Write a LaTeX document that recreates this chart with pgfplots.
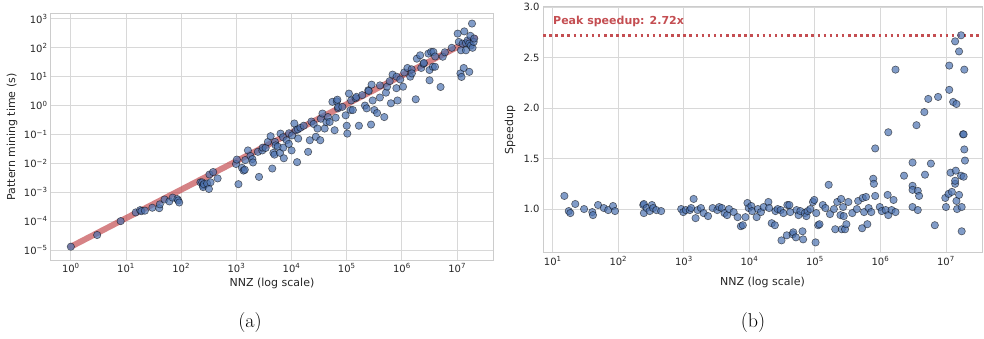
\documentclass[border=0pt]{standalone}
\usepackage{pgfplots}
\pgfplotsset{compat=1.18}
\usepackage{fontspec}
\newfontfamily\dejavu{DejaVu Sans}
\definecolor{sbblue}{HTML}{4C72B0}
\definecolor{sbred}{HTML}{C44E52}
\definecolor{txt}{HTML}{262626}
\definecolor{gridc}{HTML}{D8D8D8}
\definecolor{spine}{HTML}{CCCCCC}
\begin{document}
\begin{tikzpicture}
\path[use as bounding box] (0,0) rectangle (984pt,339pt);
% ---------------- (a)
\begin{axis}[scale only axis, xmode=log, ymode=log,
  grid=major, major grid style={draw=gridc, line width=0.9pt},
  axis line style={draw=spine, line width=1pt},
  major tick length=0pt, minor tick length=0pt,
  ticklabel style={font=\dejavu\fontsize{10}{12}\selectfont, text=txt},
  xlabel style={font=\dejavu\fontsize{11}{13}\selectfont, text=txt, at={(axis description cs:0.5,-0.0935)}, anchor=center},
  ylabel style={font=\dejavu\fontsize{11}{13}\selectfont, text=txt, at={(axis description cs:-0.088,0.5)}, anchor=center},
  at={(51pt,79pt)}, anchor=south west, width=442pt, height=246pt,
  xmin=0.437, xmax=4.47e7, ymin=4.5e-6, ymax=1.48e3,
  xtick={1,10,100,1000,10000,100000,1000000,10000000},
  xticklabels={10\textsuperscript{0},10\textsuperscript{1},10\textsuperscript{2},10\textsuperscript{3},10\textsuperscript{4},10\textsuperscript{5},10\textsuperscript{6},10\textsuperscript{7}},
  ytick={1e-5,1e-4,1e-3,1e-2,1e-1,1,10,100,1000},
  yticklabels={10\textsuperscript{−5},10\textsuperscript{−4},10\textsuperscript{−3},10\textsuperscript{−2},10\textsuperscript{−1},10\textsuperscript{0},10\textsuperscript{1},10\textsuperscript{2},10\textsuperscript{3}},
  xlabel={NNZ (log scale)}, ylabel={Pattern mining time (s)},
]
\addplot[only marks, mark=*, mark size=3.7pt,
    mark options={fill=sbblue, fill opacity=0.7, draw=black, draw opacity=0.55, line width=0.6pt}] coordinates {
(1,1.3e-5) (3,3.3e-5) (8,1.0e-4) (15,2.0e-4) (18,2.4e-4) (19,2.2e-4) (22,2.3e-4)
(30,2.9e-4) (40,2.8e-4) (41,3.8e-4) (50,5.6e-4) (61,4.8e-4) (70,6.5e-4) (85,5.8e-4)
(88,5.2e-4) (92,4.4e-4) (223,2.2e-3) (240,2.2e-3) (247,1.7e-3) (250,1.5e-3) (257,1.9e-3)
(295,2.0e-3) (318,1.3e-3) (325,4.1e-3) (340,2.2e-3) (380,5.0e-3) (457,3.0e-3)
(985,9.5e-3) (1020,1.35e-2) (1090,1.9e-3) (1260,7.0e-3) (1350,5.6e-3) (1420,6.0e-3)
(1450,1.3e-2) (1620,2.8e-2) (1800,1.8e-2) (1950,1.4e-2) (2000,1.07e-2) (2570,3.4e-3) (2450,2.5e-2)
(2950,2.8e-2) (3000,3.5e-2) (3390,3.4e-2) (3720,5.5e-2) (4170,8.7e-2) (4470,6.6e-3) (4680,2.3e-2)
(4900,2.0e-2) (5000,5.5e-2) (5130,4.2e-2) (5620,3.8e-2) (6310,0.107) (6170,2.3e-2) (7000,8e-2) (7240,1.5e-2)
(7080,3.5e-2) (8130,6.3e-2) (8910,4.7e-2) (9000,0.11) (10000,2.8e-2) (10230,9.3e-2) (11220,0.24)
(12020,0.14) (12590,1.1e-2) (13000,0.15) (13180,7.2e-2) (14450,0.17) (16600,0.2) (19950,2.5e-2)
(21380,6.3e-2) (22910,0.28) (25120,0.23) (27540,8.3e-2) (29510,0.16) (33110,6.3e-2)
(33880,0.35) (36310,0.53) (39810,0.16) (42660,0.27) (45710,0.4) (48980,0.27) (54950,1.35)
(60260,0.14) (63100,0.38) (66070,1.4) (69180,0.8) (67610,1.6) (70000,0.9) (83180,0.9) (95500,0.46)
(100000,0.2) (102300,0.107) (109600,2.6) (117500,0.7) (120000,1.5) (128800,0.7) (144500,1.8)
(150000,2.0) (166000,0.2) (190500,2.3) (213800,1.0) (229100,0.8) (245500,3.4) (250000,3.2) (275400,0.22)
(281800,5.3) (295100,1.5) (316200,0.7) (354800,0.55) (398100,1.9) (400000,5) (478600,0.4)
(512900,2.8) (537000,4.5) (600000,7) (631000,1.2) (676100,11.8) (794300,4.0) (800000,10) (831800,1.5)
(933300,8.0) (1047000,4.5) (1100000,14) (1259000,20) (1413000,10) (1500000,18) (1514000,13) (1778000,1.65)
(1862000,42) (2138000,55) (2239000,20) (2455000,28) (2500000,30) (3020000,63) (3162000,7.5)
(3162000,17) (3388000,72) (3630000,22) (3715000,72) (3981000,22) (4000000,50) (5012000,4.4)
(5495000,49) (6000000,70) (8000000,100) (10230000,310) (10720000,160) (11480000,13) (11750000,82)
(12020000,9.8) (12590000,140) (13180000,20) (13490000,370) (14450000,145) (14450000,82)
(15490000,180) (16600000,14.7) (16600000,140) (17380000,260) (17780000,120) (18620000,690)
(19050000,100) (19950000,160) (20420000,210)
};
\addplot[sbred, opacity=0.7, line width=6pt, line cap=round] coordinates {(1,1.3e-5) (2.1e7,2.2e2)};
\end{axis}
% ---------------- (b)
\begin{axis}[scale only axis, xmode=log,
  grid=major, major grid style={draw=gridc, line width=0.9pt},
  axis line style={draw=spine, line width=1pt},
  major tick length=0pt, minor tick length=0pt,
  ticklabel style={font=\dejavu\fontsize{10}{12}\selectfont, text=txt},
  xlabel style={font=\dejavu\fontsize{11}{13}\selectfont, text=txt, at={(axis description cs:0.5,-0.118)}, anchor=center},
  ylabel style={font=\dejavu\fontsize{11}{13}\selectfont, text=txt, at={(axis description cs:-0.075,0.5)}, anchor=center},
  at={(543pt,86pt)}, anchor=south west, width=439pt, height=246pt,
  xmin=7.08, xmax=3.55e7, ymin=0.565, ymax=3.0,
  xtick={10,100,1000,10000,100000,1000000,10000000},
  xticklabels={10\textsuperscript{1},10\textsuperscript{2},10\textsuperscript{3},10\textsuperscript{4},10\textsuperscript{5},10\textsuperscript{6},10\textsuperscript{7}},
  ytick={1.0,1.5,2.0,2.5,3.0},
  yticklabels={1.0,1.5,2.0,2.5,3.0},
  xlabel={NNZ (log scale)}, ylabel={Speedup},
]
\addplot[only marks, mark=*, mark size=3.7pt,
    mark options={fill=sbblue, fill opacity=0.7, draw=black, draw opacity=0.55, line width=0.6pt}] coordinates {
(15,1.13) (17.5,0.98) (18.5,0.96) (22,1.05) (30,1.0) (40,0.97) (41,0.94) (49,1.04)
(60,1.01) (70,0.99) (83,1.03) (89,0.98) (240,1.04) (245,1.05) (245,0.96) (270,1.01)
(300,0.98) (325,1.04) (340,1.01) (380,0.99) (450,0.98) (910,1.0) (980,0.97) (1070,0.99)
(1230,0.99) (1290,1.01) (1410,1.10) (1510,0.91) (1620,0.99) (1820,1.01) (2000,0.96)
(2340,0.93) (2750,1.01) (3240,0.99) (3470,1.02) (3800,1.01) (4170,0.96) (4570,0.94)
(4900,1.0) (5750,0.97) (6610,0.92) (7410,0.83) (7940,0.84) (8710,0.92) (9330,1.06)
(9770,1.01) (10700,1.03) (11000,0.98) (12900,0.92) (13500,1.0) (15000,0.97) (16500,1.02)
(19500,1.07) (20000,1.01) (21900,0.86) (24500,0.84) (25000,0.98) (27000,1.0) (30000,0.99)
(30900,0.69) (33000,0.96) (37200,0.74) (38000,1.04) (40700,1.04) (42000,0.97) (45700,0.75)
(46800,0.77) (51300,0.72) (52500,0.99) (56200,0.94) (60000,0.98) (64600,0.78) (66100,0.70)
(70000,0.96) (74100,0.93) (77600,0.98) (85000,1.0) (93300,1.07) (97700,1.09) (102300,0.67)
(104700,0.96) (112200,0.84) (117500,0.85) (131800,1.04) (144500,1.01) (162200,1.24)
(169800,0.95) (195000,1.0) (204200,0.80) (218800,1.07) (245500,0.94) (251200,1.10)
(257000,0.80) (269200,1.02) (275400,0.93) (288400,0.80) (302000,0.85) (323600,1.07)
(371500,0.96) (436500,1.0) (457100,1.08) (524800,0.81) (537000,1.11) (562300,0.97)
(602600,1.12) (631000,0.85) (660700,1.01) (724400,0.97) (776200,1.30) (794300,1.25)
(831800,1.60) (831800,1.13) (977200,1.02) (1047000,0.98) (1202000,0.99) (1288000,1.14)
(1318000,1.76) (1318000,0.94) (1479000,0.99) (1585000,1.09) (1698000,0.97) (1698000,2.38)
(2291000,1.33) (3090000,1.46) (3090000,1.23) (3090000,1.19) (3090000,1.02) (3548000,1.83)
(3715000,1.18) (3890000,1.13) (3715000,0.99) (4677000,1.96) (4786000,1.34) (5370000,2.09)
(5888000,1.45) (6761000,0.84) (7586000,2.11) (9772000,1.11) (10000000,1.02) (10960000,1.15)
(11220000,2.42) (11220000,2.18) (11750000,1.36) (12300000,1.17) (12880000,2.06)
(13800000,2.66) (14450000,2.04) (14450000,1.08) (14790000,1.0) (13800000,1.25)
(13800000,1.28) (14130000,1.38) (15850000,2.56) (15850000,1.14) (17000000,2.72)
(17000000,1.33) (17380000,1.02) (17380000,0.78) (18200000,1.74) (18620000,1.74)
(19050000,1.59) (19050000,2.38) (19500000,1.48) (18620000,1.32)
};
\addplot[sbred, line width=2.5pt, dash pattern=on 2.5pt off 3.6pt] coordinates {(7.08,2.72) (3.55e7,2.72)};
\node[anchor=west, text=sbred, font=\dejavu\bfseries\fontsize{11}{13}\selectfont, inner sep=0pt] at (axis description cs:0.0228,0.943) {Peak speedup: 2.72x};
\end{axis}
\node[font=\fontsize{20}{24}\selectfont, text=black] at (250pt,16pt) {(a)};
\node[font=\fontsize{20}{24}\selectfont, text=black] at (753pt,16pt) {(b)};
\end{tikzpicture}
\end{document}
